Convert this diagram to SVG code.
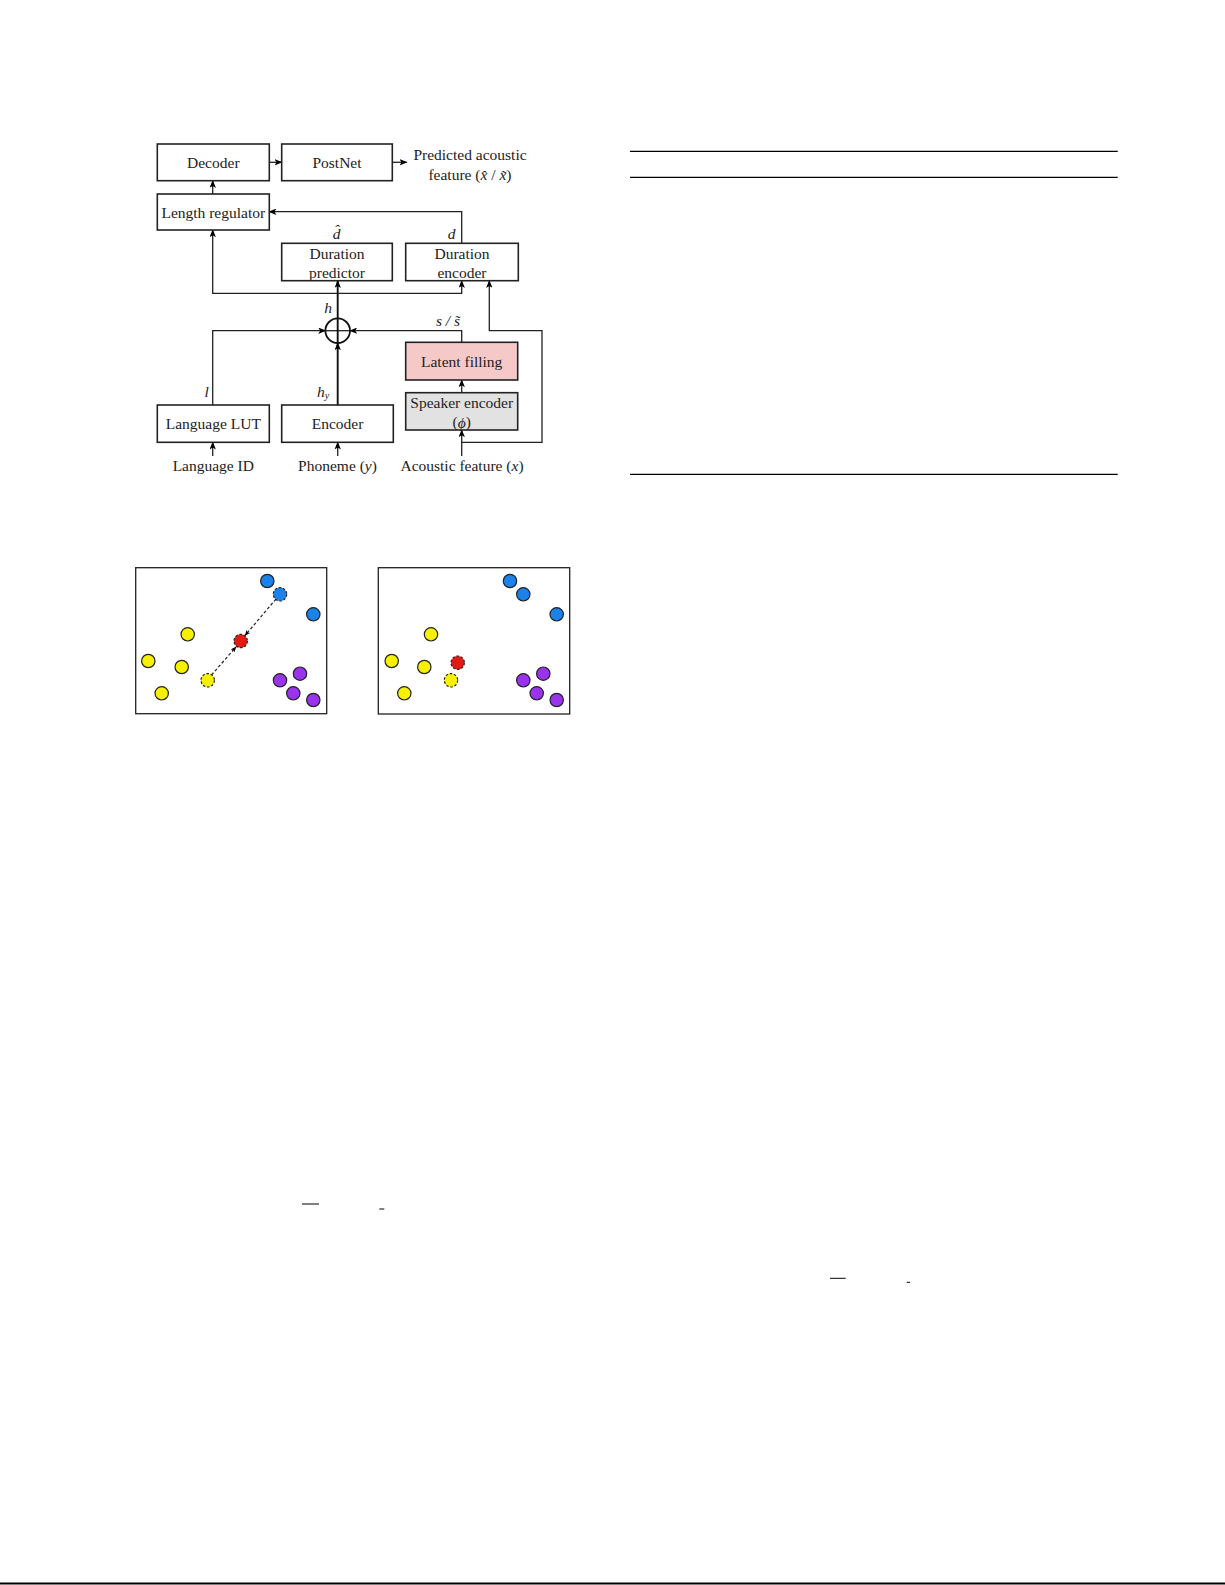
<svg xmlns="http://www.w3.org/2000/svg" width="1225" height="1585" viewBox="0 0 1225 1585">
<defs>
<marker id="ah" viewBox="0 0 10 8" refX="9" refY="4" markerWidth="8" markerHeight="6.4" markerUnits="userSpaceOnUse" orient="auto">
<path d="M0,0 L10,4 L0,8 L2.5,4 z" fill="#000"/>
</marker>
<marker id="ahs" viewBox="0 0 10 8" refX="9" refY="4" markerWidth="6" markerHeight="5" markerUnits="userSpaceOnUse" orient="auto">
<path d="M0,0 L10,4 L0,8 L2.5,4 z" fill="#000"/>
</marker>
</defs>
<style>
.box{fill:#fff;stroke:#222;stroke-width:1.6}
.t{font-family:"Liberation Serif","DejaVu Serif",serif;font-size:15.5px;fill:#222;text-anchor:middle;dominant-baseline:central}
.m{font-family:"Liberation Serif","DejaVu Serif",serif;font-size:15.5px;font-style:italic;fill:#222;text-anchor:middle;dominant-baseline:central}
.c{fill:none;stroke:#222;stroke-width:1.3}
.ck{fill:none;stroke:#111;stroke-width:1.9}
.pt{stroke:#222;stroke-width:1.2}
.dpt{stroke:#222;stroke-width:1.2;stroke-dasharray:2.5 1.8}
.rule{stroke:#000;stroke-width:1.3}
.bl{fill:#1a82e8}.ye{fill:#f7f100}.pu{fill:#9a34ec}.re{fill:#e21a12}
</style>
<rect width="1225" height="1585" fill="#fff"/>

<g id="connectors">
<line class="c" x1="269.3" y1="162.3" x2="281.7" y2="162.3" marker-end="url(#ah)"/>
<line class="c" x1="392.3" y1="162.3" x2="406.7" y2="162.3" marker-end="url(#ah)"/>
<line class="c" x1="212.7" y1="194" x2="212.7" y2="180.7" marker-end="url(#ah)"/>
<polyline class="c" points="461.7,243.3 461.7,211.7 269.3,211.7" marker-end="url(#ah)"/>
<line class="ck" x1="337.7" y1="318.4" x2="337.7" y2="280.7" marker-end="url(#ah)"/>
<polyline class="c" points="337.7,293.3 212.7,293.3 212.7,230" marker-end="url(#ah)"/>
<polyline class="c" points="337.7,293.3 461.7,293.3 461.7,280.7" marker-end="url(#ah)"/>
<polyline class="c" points="212.7,405 212.7,330.7 325.4,330.7" marker-end="url(#ah)"/>
<line class="ck" x1="337.7" y1="405" x2="337.7" y2="343" marker-end="url(#ah)"/>
<polyline class="c" points="461.7,342.3 461.7,330.7 350,330.7" marker-end="url(#ah)"/>
<line class="c" x1="461.7" y1="392.7" x2="461.7" y2="380" marker-end="url(#ah)"/>
<line class="c" x1="461.7" y1="456" x2="461.7" y2="430" marker-end="url(#ah)"/>
<polyline class="c" points="461.7,442.3 542,442.3 542,330.7 489.3,330.7 489.3,280.7" marker-end="url(#ah)"/>
<line class="c" x1="212.7" y1="456" x2="212.7" y2="442.3" marker-end="url(#ah)"/>
<line class="c" x1="337.7" y1="456" x2="337.7" y2="442.3" marker-end="url(#ah)"/>
</g>

<g id="decoder"><rect class="box" x="157.3" y="144" width="112" height="36.7"/><text class="t" x="213.3" y="162.3">Decoder</text></g>
<g id="postnet"><rect class="box" x="281.7" y="144" width="110.6" height="36.7"/><text class="t" x="337" y="162.3">PostNet</text></g>
<g id="output">
<text class="t" x="470" y="154">Predicted acoustic</text>
<text class="t" x="470" y="174">feature (<tspan font-style="italic">x̂</tspan> / <tspan font-style="italic">x̃</tspan>)</text>
</g>
<g id="length-regulator"><rect class="box" x="157.3" y="194" width="112" height="36"/><text class="t" x="213.3" y="212">Length regulator</text></g>
<g id="duration-predictor"><rect class="box" x="281.7" y="243.3" width="110.6" height="37.4"/><text class="t" x="337" y="253">Duration</text><text class="t" x="337" y="272">predictor</text><text class="m" x="336.7" y="233">d̂</text></g>
<g id="duration-encoder"><rect class="box" x="405.7" y="243.3" width="112.6" height="37.4"/><text class="t" x="462" y="253">Duration</text><text class="t" x="462" y="272">encoder</text><text class="m" x="451.7" y="233">d</text></g>
<g id="sum"><circle cx="337.7" cy="330.7" r="12.3" fill="#fff" stroke="#111" stroke-width="1.8"/><line class="c" x1="325.4" y1="330.7" x2="350" y2="330.7"/><line class="ck" x1="337.7" y1="318.4" x2="337.7" y2="343"/><text class="m" x="328" y="307">h</text></g>
<g id="latent-filling"><rect x="405.7" y="342.3" width="112" height="37.7" fill="#f6c9c9" stroke="#222" stroke-width="1.6"/><text class="t" x="461.7" y="361">Latent filling</text><text class="m" x="448" y="320.7">s / s̃</text></g>
<g id="speaker-encoder"><rect x="405.7" y="392.7" width="112" height="37.3" fill="#e2e2e2" stroke="#222" stroke-width="1.6"/><text class="t" x="461.7" y="402.3">Speaker encoder</text><text class="t" x="461.7" y="421.7">(<tspan font-style="italic">ϕ</tspan>)</text></g>
<g id="language-lut"><rect class="box" x="157.3" y="405" width="112" height="37.3"/><text class="t" x="213.3" y="423.7">Language LUT</text><text class="m" x="206.7" y="391.7">l</text></g>
<g id="encoder"><rect class="box" x="281.7" y="405" width="111.6" height="37.3"/><text class="t" x="337.5" y="423.7">Encoder</text><text class="m" x="323" y="391">h<tspan font-size="10" dy="4">y</tspan></text></g>
<g id="inputs">
<text class="t" x="213.3" y="465">Language ID</text>
<text class="t" x="337.5" y="465">Phoneme (<tspan font-style="italic">y</tspan>)</text>
<text class="t" x="462" y="465">Acoustic feature (<tspan font-style="italic">x</tspan>)</text>
</g>

<g id="scatter-left">
<rect x="135.7" y="567.7" width="191" height="146" fill="#fff" stroke="#222" stroke-width="1.3"/>
<line x1="276" y1="599" x2="245" y2="635.5" stroke="#222" stroke-width="1.2" stroke-dasharray="3 2.2" marker-end="url(#ahs)"/>
<line x1="211.5" y1="675" x2="236" y2="647" stroke="#222" stroke-width="1.2" stroke-dasharray="3 2.2" marker-end="url(#ahs)"/>
<circle class="bl pt" cx="267.3" cy="581" r="6.7"/>
<circle class="bl dpt" cx="280" cy="594.3" r="6.7"/>
<circle class="bl pt" cx="313.3" cy="614.3" r="6.7"/>
<circle class="ye pt" cx="187.7" cy="634.3" r="6.7"/>
<circle class="ye pt" cx="148.3" cy="661" r="6.7"/>
<circle class="ye pt" cx="181.7" cy="667" r="6.7"/>
<circle class="ye pt" cx="161.7" cy="693.3" r="6.7"/>
<circle class="ye dpt" cx="207.7" cy="680.3" r="6.7"/>
<circle class="re dpt" cx="240.7" cy="641" r="6.7"/>
<circle class="pu pt" cx="280" cy="680.3" r="6.7"/>
<circle class="pu pt" cx="300" cy="673.7" r="6.7"/>
<circle class="pu pt" cx="293.3" cy="693.3" r="6.7"/>
<circle class="pu pt" cx="313.3" cy="700" r="6.7"/>
</g>

<g id="scatter-right">
<rect x="378.3" y="567.7" width="191.4" height="146.3" fill="#fff" stroke="#222" stroke-width="1.3"/>
<circle class="bl pt" cx="510" cy="581" r="6.7"/>
<circle class="bl pt" cx="523.3" cy="594.3" r="6.7"/>
<circle class="bl pt" cx="556.7" cy="614.3" r="6.7"/>
<circle class="ye pt" cx="431" cy="634.3" r="6.7"/>
<circle class="ye pt" cx="391.7" cy="661" r="6.7"/>
<circle class="ye pt" cx="424.3" cy="667" r="6.7"/>
<circle class="ye pt" cx="404.3" cy="693.3" r="6.7"/>
<circle class="ye dpt" cx="451" cy="680.3" r="6.7"/>
<circle class="re dpt" cx="457.7" cy="662.7" r="6.7"/>
<circle class="pu pt" cx="523.3" cy="680.3" r="6.7"/>
<circle class="pu pt" cx="543.3" cy="673.7" r="6.7"/>
<circle class="pu pt" cx="536.7" cy="693.3" r="6.7"/>
<circle class="pu pt" cx="556.7" cy="700" r="6.7"/>
</g>

<g id="table-rules">
<line class="rule" x1="630" y1="151.3" x2="1117.7" y2="151.3"/>
<line class="rule" x1="630" y1="177.3" x2="1117.7" y2="177.3"/>
<line class="rule" x1="630" y1="474.3" x2="1117.7" y2="474.3"/>
</g>

<g id="fragments">
<line x1="302" y1="1204" x2="319" y2="1204" stroke="#000" stroke-width="1"/>
<line x1="379.3" y1="1209" x2="384.3" y2="1209" stroke="#000" stroke-width="1"/>
<line x1="830" y1="1278.3" x2="845.7" y2="1278.3" stroke="#000" stroke-width="1"/>
<line x1="906.7" y1="1282.3" x2="910" y2="1282.3" stroke="#000" stroke-width="1"/>
<line x1="0" y1="1583.5" x2="1225" y2="1583.5" stroke="#000" stroke-width="2"/>
</g>
</svg>
